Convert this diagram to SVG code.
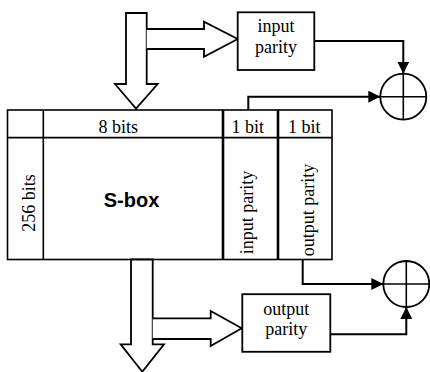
<svg xmlns="http://www.w3.org/2000/svg" width="430" height="372" viewBox="0 0 430 372">
  <style>
    .serif { font-family: "Liberation Serif", "Times New Roman", serif; font-size: 18px; fill: #000; }
    .bold { font-family: "Liberation Sans", Arial, sans-serif; font-size: 20px; font-weight: bold; fill: #000; }
    .line { fill: none; stroke: #000; stroke-width: 1.6; }
    .thick { fill: none; stroke: #000; stroke-width: 2.6; }
    .block { fill: #fff; stroke: #000; stroke-width: 1.8; stroke-linejoin: miter; }
    .wire { fill: none; stroke: #000; stroke-width: 2; }
    .box { fill: #fff; stroke: #000; stroke-width: 1.8; }
    .xor { fill: #fff; stroke: #000; stroke-width: 1.8; }
  </style>
  <defs>
    <marker id="head" viewBox="0 0 12 12" markerWidth="12" markerHeight="12" markerUnits="userSpaceOnUse" refX="12" refY="6" orient="auto">
      <path d="M0,0 L12,6 L0,12 Z" fill="#000"/>
    </marker>
  </defs>

  <!-- S-box table -->
  <g id="sbox-table">
    <rect x="7.5" y="110" width="324.5" height="149.5" class="line"/>
    <line x1="7.5" y1="137.6" x2="332" y2="137.6" class="line"/>
    <line x1="43.3" y1="110" x2="43.3" y2="259.5" class="line"/>
    <line x1="223" y1="110" x2="223" y2="259.5" class="thick"/>
    <line x1="278" y1="110" x2="278" y2="259.5" class="thick"/>
    <text x="98.5" y="133" class="serif">8 bits</text>
    <text x="231.5" y="133" class="serif">1 bit</text>
    <text x="288" y="133" class="serif">1 bit</text>
    <text transform="translate(34.5,203) rotate(-90)" text-anchor="middle" class="serif">256 bits</text>
    <text x="131.5" y="207" text-anchor="middle" class="bold">S-box</text>
    <text transform="translate(252.5,212.5) rotate(-90)" text-anchor="middle" class="serif">input parity</text>
    <text transform="translate(313.5,210) rotate(-90)" text-anchor="middle" class="serif">output parity</text>
  </g>

  <!-- input data arrow with branch to input parity -->
  <g id="input-arrow">
    <polygon class="block" points="126,13 146.7,13 146.7,84 157.7,84 136,108.7 115,84 126,84"/>
    <path class="block" d="M146.7,29 H204 V21.7 L237.7,39 L204,56.7 V49 H146.7"/>
  </g>

  <!-- output data arrow with branch to output parity -->
  <g id="output-arrow">
    <polygon class="block" points="131,259.5 152.7,259.5 152.7,344.3 164,344.3 142.3,371.7 120.7,344.3 131,344.3"/>
    <path class="block" d="M152.7,318.3 H210.7 V311 L241.7,328.3 L210.7,346 V339 H152.7"/>
  </g>

  <!-- parity generators -->
  <g id="input-parity">
    <rect x="237.7" y="12.3" width="76.6" height="57.7" class="box"/>
    <text x="276" y="31.7" text-anchor="middle" class="serif">input</text>
    <text x="276" y="53.3" text-anchor="middle" class="serif">parity</text>
  </g>
  <g id="output-parity">
    <rect x="242.3" y="294.2" width="88" height="57.6" class="box"/>
    <text x="286.3" y="315" text-anchor="middle" class="serif">output</text>
    <text x="286.3" y="335" text-anchor="middle" class="serif">parity</text>
  </g>

  <!-- XOR comparators -->
  <g id="xor-in">
    <circle cx="403.3" cy="96.7" r="23" class="xor"/>
    <line x1="380.3" y1="96.7" x2="426.3" y2="96.7" class="line"/>
    <line x1="403.3" y1="73.7" x2="403.3" y2="119.7" class="line"/>
  </g>
  <g id="xor-out">
    <circle cx="406.3" cy="284" r="23" class="xor"/>
    <line x1="383.3" y1="284" x2="429.3" y2="284" class="line"/>
    <line x1="406.3" y1="261" x2="406.3" y2="307" class="line"/>
  </g>

  <!-- connectors -->
  <g id="connectors">
    <path class="wire" d="M248.3,110 V96.7 H380.3" marker-end="url(#head)"/>
    <path class="wire" d="M314.3,41 H403.3 V73.7" marker-end="url(#head)"/>
    <path class="wire" d="M302.7,259.5 V284 H383.3" marker-end="url(#head)"/>
    <path class="wire" d="M330.3,334.3 H406.3 V307" marker-end="url(#head)"/>
  </g>
</svg>
